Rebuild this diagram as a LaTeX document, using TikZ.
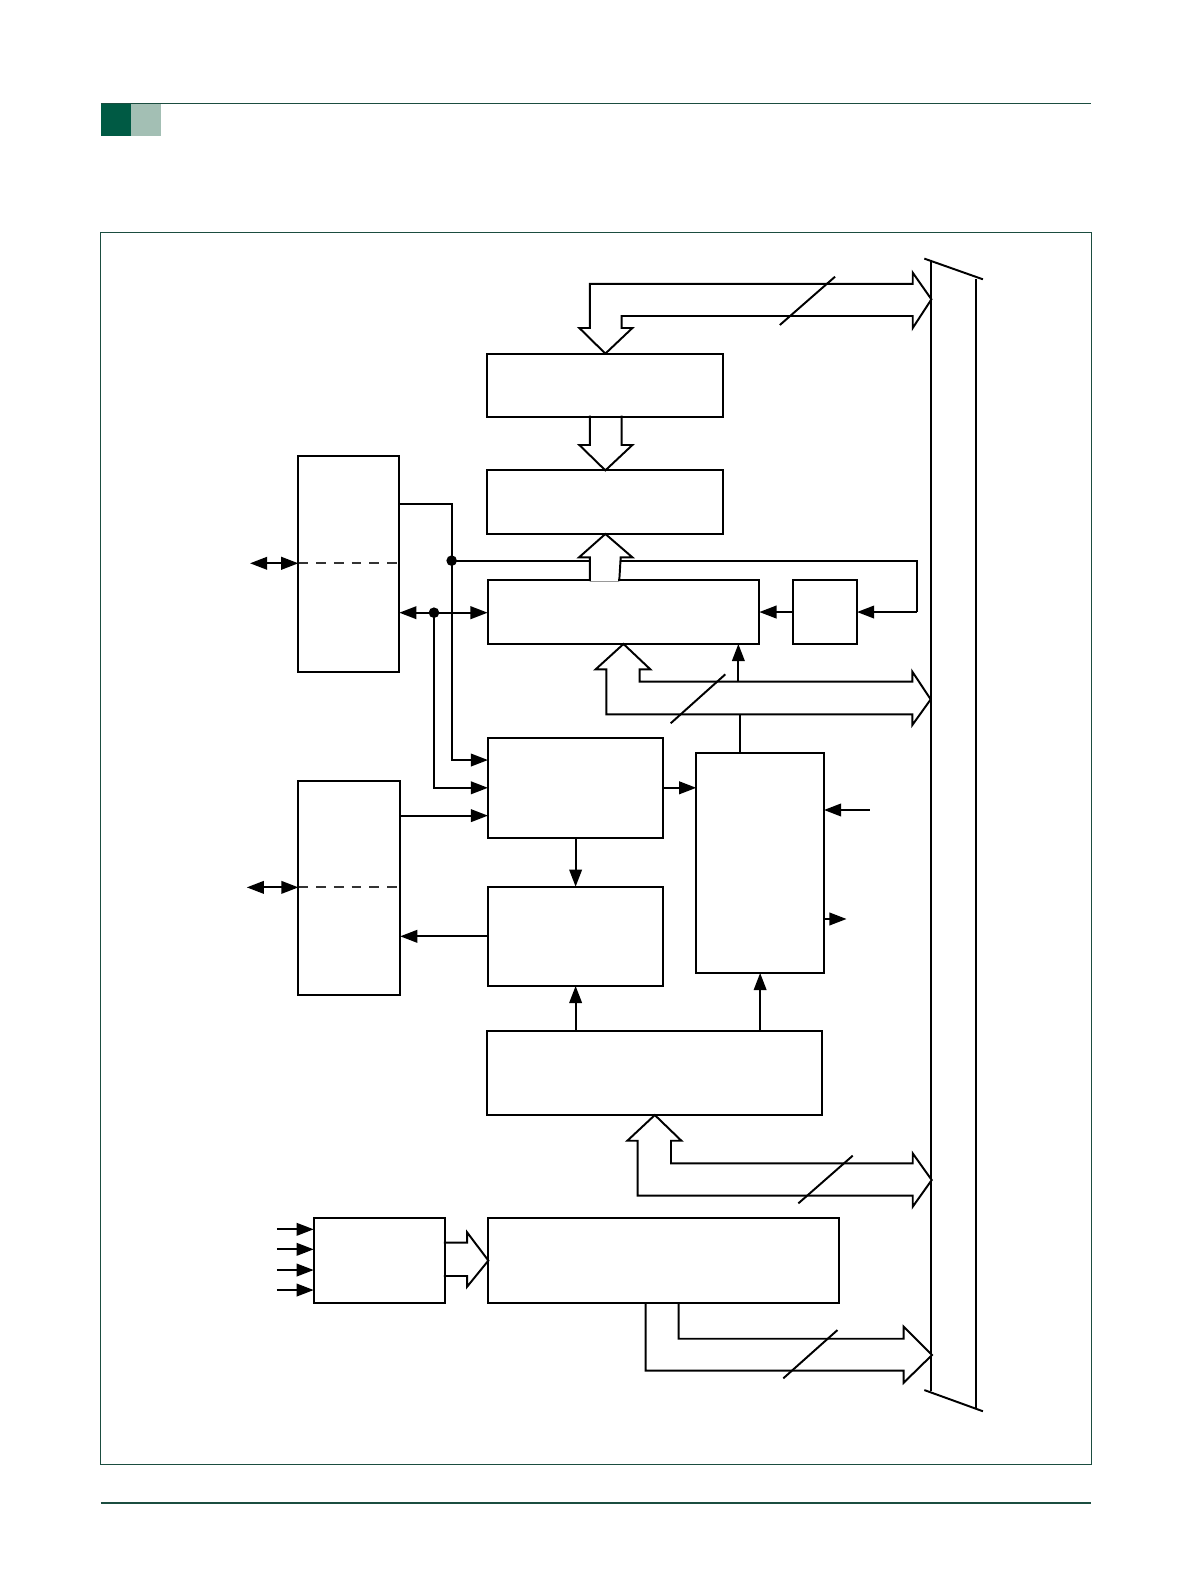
\documentclass[tikz,border=0pt]{standalone}
\usetikzlibrary{arrows.meta,positioning,calc,fit}
\definecolor{pageDeep}{HTML}{005A44}
\definecolor{pageSage}{HTML}{A3BFB4}
\definecolor{pageRule}{HTML}{1B4D40}

\begin{document}
\begin{tikzpicture}[x=0.02cm,y=-0.02cm,line width=1.1pt,
    fat/.style={draw,fill=white,line join=miter},
    arr/.style={-{Triangle[length=0.34cm,width=0.25cm]}},
    arrs/.style={{Triangle[length=0.34cm,width=0.25cm]}-{Triangle[length=0.34cm,width=0.25cm]}},
    jdot/.style={circle,fill,inner sep=0pt,minimum size=0.21cm},
    pinline/.style={draw=black!80,dash pattern=on 5.5pt off 4.5pt},
    rule/.style={draw=pageRule,line width=0.6pt}]
  \useasboundingbox (0,0) rectangle (1180,1568);
  % page furniture
  \fill[pageDeep] (99.8,102.3) rectangle (129.5,134.4);
  \fill[pageSage] (129.5,102.3) rectangle (159.2,134.4);
  \draw[rule] (99.8,102.3) -- (1080,102.3);
  \draw[rule] (99.8,229.7) rectangle (1080,1449.5);
  \draw[rule] (99.8,1487.8) -- (1080,1487.8);

  % blocks (outlines drawn last)
  \node[fit={(483.5,351) (715,411.5)},inner sep=0pt]     (bufA) {};
  \node[fit={(483.5,466.6) (715,527.6)},inner sep=0pt]   (shiftB) {};
  \node[fit={(483.7,575.2) (750.7,636.5)},inner sep=0pt] (shiftC) {};
  \node[fit={(785.7,575.2) (847.4,636.5)},inner sep=0pt] (pre) {};
  \node[fit={(296.3,452) (394.3,664)},inner sep=0pt]     (portP) {};
  \node[fit={(296.4,774.4) (395.2,984)},inner sep=0pt]   (portQ) {};
  \node[fit={(484,731.5) (655.6,828.2)},inner sep=0pt]   (ctrlF) {};
  \node[fit={(484,878.7) (655.6,975)},inner sep=0pt]     (ctrlH) {};
  \node[fit={(690.2,746.1) (814.7,962.2)},inner sep=0pt] (timer) {};
  \node[fit={(483.4,1021.3) (813,1102.8)},inner sep=0pt] (cfg) {};
  \node[fit={(311.5,1206.7) (439.5,1288.9)},inner sep=0pt] (mux) {};
  \node[fit={(484.4,1206.7) (829.6,1288.9)},inner sep=0pt] (adc) {};

  \node[jdot] (jA) at (447.1,555) {};
  \node[jdot] (jB) at (429.6,606.5) {};
  \coordinate (tapC) at (730.9,674.8);
  \coordinate (tapG) at (732.3,707.1);
  \coordinate (gIn)  at (861,801.8);
  \coordinate (gOut) at (838,909.7);

  % internal bus
  \draw (915,256) -- (973,276.5);
  \draw (922,257) -- (922,1377);
  \draw (966,276.5) -- (966,1395);
  \draw (915,1376) -- (973,1397);

  % port pins
  \draw[arrs] (247.5,557.6) -- (portP.west |- 0,557.6);
  \draw[pinline] (portP.west |- 0,557.6) -- (portP.east |- 0,557.6);
  \draw[arrs] (244.3,878.4) -- (portQ.west |- 0,878.4);
  \draw[pinline] (portQ.west |- 0,878.4) -- (portQ.east |- 0,878.4);

  % signal lines
  \draw[arr] (portP.east |- 0,499.3) -| (jA.center) |- ($(ctrlF.west)+(0,-27.5)$);
  \draw (jA.center) -| ($(pre.east)+(59,0)$);
  \draw[arr] ($(pre.east)+(59,0)$) -- (pre.east);
  \draw[arr] (pre.west) -- (pre.west -| shiftC.east);
  \draw[arrs] (portP.east |- jB.center) -- (shiftC.west |- jB.center);
  \draw[arr] (jB.center) |- (ctrlF.west);
  \draw[arr] (portQ.east |- 0,807.4) -- (ctrlF.west |- 0,807.4);
  \draw[arr] (ctrlH.west) -- (ctrlH.west -| portQ.east);
  \draw[arr] (ctrlF.south) -- (ctrlH.north);
  \draw[arr] (ctrlF.east) -- (ctrlF.east -| timer.west);
  \draw[arr] (cfg.north -| ctrlH.south) -- (ctrlH.south);
  \draw[arr] (cfg.north -| timer.south) -- (timer.south);
  \draw[arr] (gIn) -- (gIn -| timer.east);
  \draw[arr] (gOut -| timer.east) -- (gOut);
  \draw[arr] (tapC) -- (tapC |- shiftC.south);
  \draw (tapG) -- (tapG |- timer.north);
  \foreach \y in {1216.9,1236.7,1257.2,1277}
    \draw[arr] (274.1,\y) -- (mux.west |- 0,\y);

  % wide bus arrows
  \draw[fat] (bufA.north) -- (573.5,324.7) -- (584,324.7) -- (584,281.1)
    -- (903.5,281.1) -- (903.5,269.9) -- (922,296.3) -- (903.5,324.7)
    -- (903.5,312.8) -- (615.4,312.8) -- (615.4,324.7) -- (626,324.7) -- cycle;
  \draw[fat] (584,411.5) -- (584,440.5) -- (573.5,440.5) -- (shiftB.north)
    -- (626,440.5) -- (615.4,440.5) -- (615.4,411.5);
  \draw[fat] (584,575.2) -- (584,551.7) -- (573.2,551.7) -- (shiftB.south)
    -- (626,551.7) -- (614.4,551.7) -- (613,575.2);
  \draw[fat] (shiftC.south) -- (589.6,662.6) -- (600.2,662.6) -- (600.2,707.1)
    -- (903.1,707.1) -- (903.1,717.7) -- (921.3,692.3) -- (903.1,664.9)
    -- (903.1,674.8) -- (633.2,674.8) -- (633.2,662.6) -- (643.8,662.6) -- cycle;
  \draw[fat] (cfg.south) -- (621,1129.2) -- (631.2,1129.2) -- (631.2,1183.6)
    -- (903.5,1183.6) -- (903.5,1194.5) -- (922.3,1168.1) -- (903.5,1141.7)
    -- (903.5,1151.6) -- (664.2,1151.6) -- (664.2,1129.2) -- (674.5,1129.2) -- cycle;
  \draw[fat] (639,1288.9) -- (639,1356.8) -- (894.5,1356.8) -- (894.5,1368.8)
    -- (922.6,1341.3) -- (894.5,1313.3) -- (894.5,1325.2) -- (671.7,1325.2)
    -- (671.7,1288.9);
  \draw[fat] (439.5,1230.1) -- (462.4,1230.1) -- (462.4,1219.9) -- (adc.west)
    -- (462.4,1273.7) -- (462.4,1263.1) -- (439.5,1263.1);

  % bus width marks
  \draw (772,321.7) -- (826.6,273.9);
  \draw (663.9,716) -- (718,667.5);
  \draw (790.3,1191.2) -- (844.1,1144);
  \draw (775.4,1364.4) -- (829,1316.6);

  % block outlines
  \foreach \b in {bufA,shiftB,shiftC,pre,portP,portQ,ctrlF,ctrlH,timer,cfg,mux,adc}
    \draw (\b.north west) rectangle (\b.south east);
  \fill[white] (585.1,572.3) rectangle (612.1,578.1);
  \draw[black!40,line width=0.5pt] (584.5,575.2) -- (613,575.2);
\end{tikzpicture}
\end{document}
